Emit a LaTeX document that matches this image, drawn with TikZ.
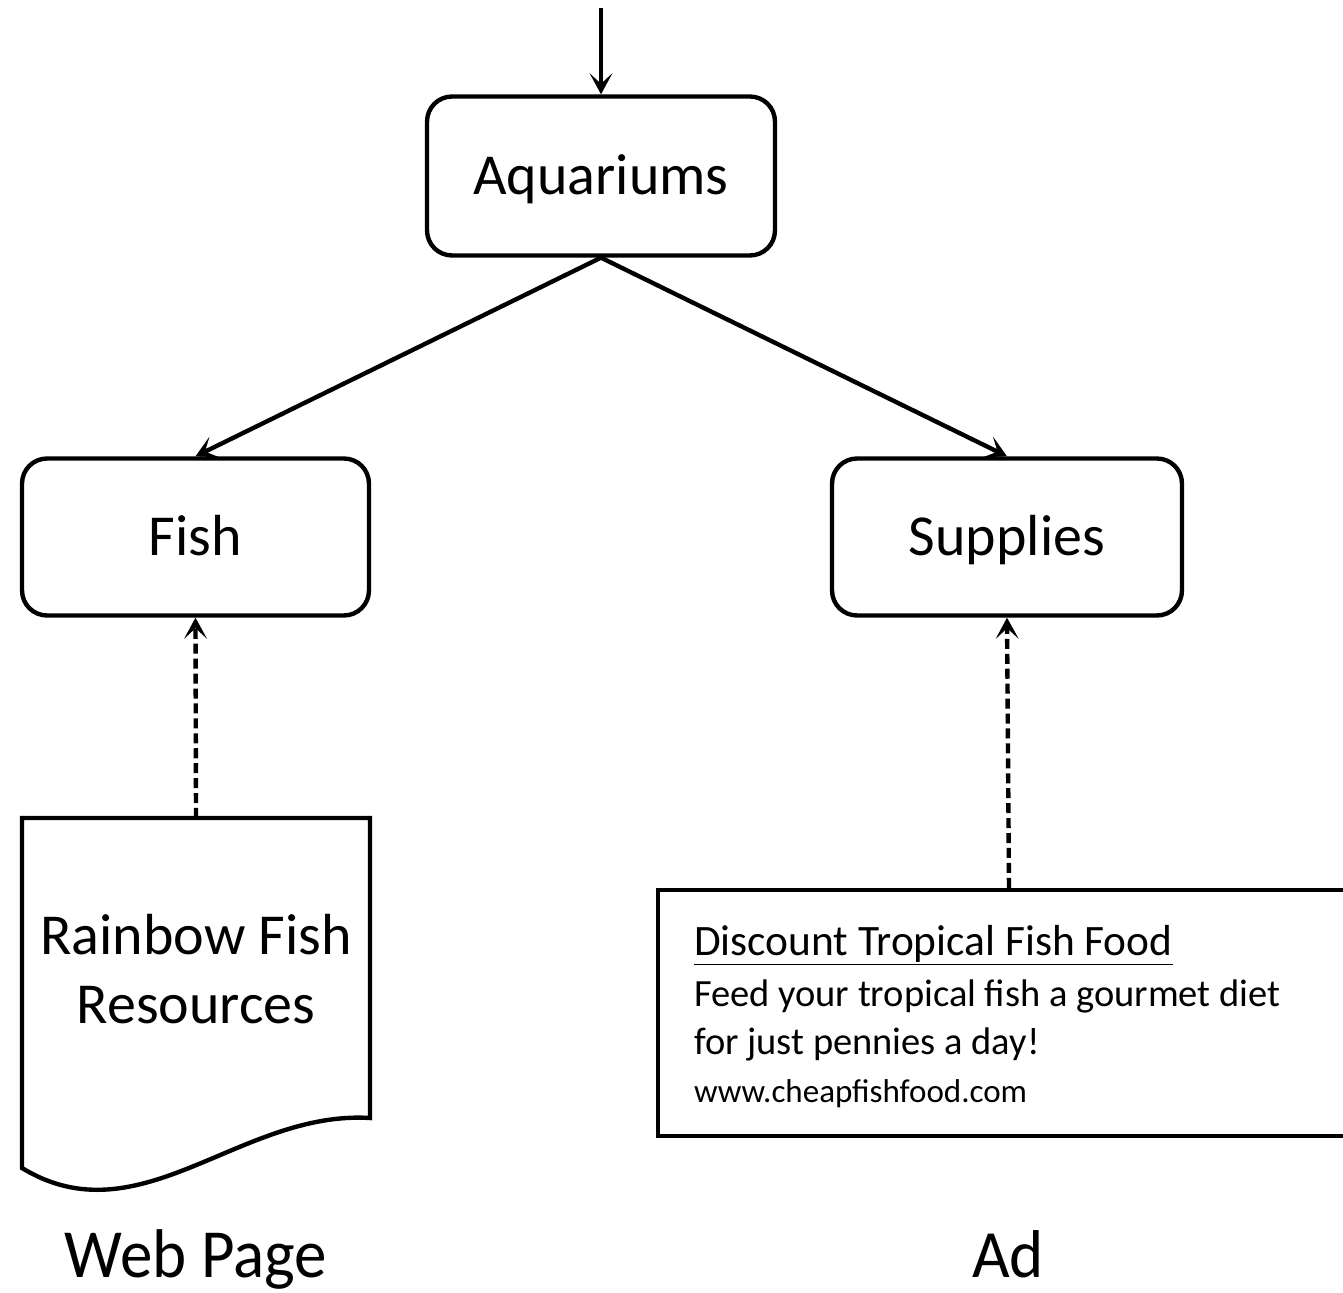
\documentclass[tikz,border=0pt]{standalone}
\usepackage{fontspec}
\setmainfont{Carlito}
\usetikzlibrary{arrows.meta}
\begin{document}
\begin{tikzpicture}[x=0.02cm,y=-0.02cm,
  line width=2.5pt,
  catbox/.style={draw, rounded corners=0.5cm, minimum width=#1, minimum height=3.14cm, inner sep=0pt, text height=21.3pt, text depth=0pt, font=\fontsize{33}{40}\selectfont},
  arr/.style={-{Stealth[length=12pt,width=13pt,inset=6pt]}},
  darr/.style={arr, dash pattern=on 5.7pt off 2.8pt},
  adtxt/.style={anchor=base west, inner sep=0pt},
  lbl/.style={anchor=base, font=\fontsize{37}{44}\selectfont, inner sep=0pt}]
\clip (0,0) rectangle (1343,1293);
\useasboundingbox (0,0) rectangle (1343,1293);
% nodes
\node[catbox=6.96cm, minimum height=3.18cm] (aq) at (601,176) {Aquariums};
\node[catbox=6.94cm] (fish) at (195.5,537) {Fish};
\node[catbox=7cm] (sup) at (1007,537) {Supplies};
\coordinate (start) at (601,8);
% document shape
\draw (22,818) -- (370,818) -- (370,1118)
  .. controls (240,1110) and (140,1240) .. (22,1168) -- cycle;
\coordinate (doctop) at (196,818);
\node[font=\fontsize{33}{40}\selectfont, align=center, inner sep=0pt, anchor=base] (doctxt) at (196,1023) {Rainbow Fish\\[-1pt]Resources};
% ad box
\node[draw, minimum width=14.04cm, minimum height=4.92cm, inner sep=0pt] (ad) at (1009,1013) {};
\node[adtxt, font=\fontsize{24.7}{30}\selectfont] (adtitle) at (692,955) {\underline{Discount Tropical Fish Food}};
\node[adtxt, font=\fontsize{21.9}{26}\selectfont] (adl1) at (692,1007) {Feed your tropical fish a gourmet diet};
\node[adtxt, font=\fontsize{21.9}{26}\selectfont] (adl2) at (692,1054) {for just pennies a day!};
\node[adtxt, font=\fontsize{18.8}{22}\selectfont] (adurl) at (692,1102) {www.cheapfishfood.com};
% labels
\node[lbl] (wp) at (196,1277) {\scalebox{1}[1.06]{Web Page}};
\node[lbl] (adl) at (1008,1277) {\scalebox{1}[1.04]{Ad}};
% connectors
\draw[arr] (start) -- (aq.north);
\draw[arr] (aq.south) -- (fish.north);
\draw[arr] (aq.south) -- (sup.north);
\draw[darr] (doctop) -- (fish.south);
\draw[darr] (ad.north) -- (sup.south);
\end{tikzpicture}
\end{document}
